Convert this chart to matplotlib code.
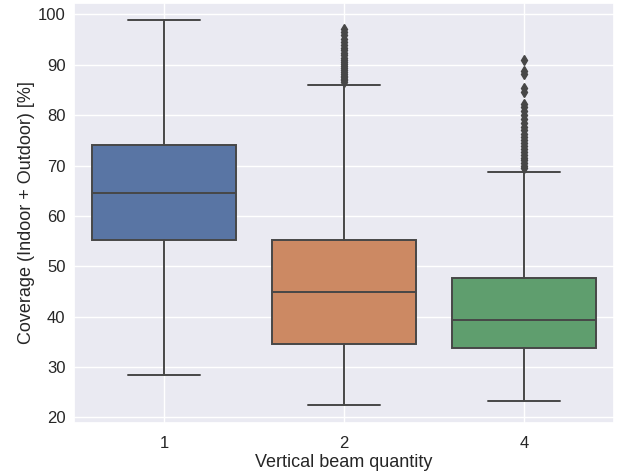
import matplotlib
matplotlib.use("Agg")
import matplotlib.pyplot as plt
import seaborn as sns

sns.set_theme(style="darkgrid")
plt.rcParams['font.family'] = ['Liberation Sans', 'DejaVu Sans']

categories = ['1', '2', '4']
q1 = [55.3, 34.6, 33.8]
median = [64.5, 44.8, 39.3]
q3 = [74.0, 55.2, 47.7]
whislo = [28.4, 22.5, 23.3]
whishi = [98.9, 85.9, 68.8]
fliers = [
    [],
    [86.6, 86.9, 87.2, 87.5, 87.8, 88.2, 88.6, 89.0, 89.4, 89.8, 90.2, 90.6,
     91.0, 91.4, 91.9, 92.4, 92.9, 93.4, 94.0, 94.6, 95.2, 95.9, 96.6, 97.1],
    [69.5, 70.0, 70.5, 71.0, 71.5, 72.0, 72.6, 73.2, 73.8, 74.4, 75.0, 75.6,
     76.3, 77.0, 77.7, 78.4, 79.2, 80.0, 80.8, 81.6, 82.3, 84.6, 85.4, 88.2,
     88.7, 91.0],
]

palette = sns.color_palette('deep', 3)
colors = [sns.desaturate(c, 0.75) for c in palette]
line_color = '#474747'

stats = []
for i, lab in enumerate(categories):
    stats.append(dict(label=lab, q1=q1[i], med=median[i], q3=q3[i],
                      whislo=whislo[i], whishi=whishi[i], fliers=fliers[i]))

fig, ax = plt.subplots(figsize=(6.21, 4.75), dpi=100)
bp = ax.bxp(stats, positions=range(len(categories)), widths=0.8,
            patch_artist=True,
            boxprops=dict(edgecolor=line_color, linewidth=1.4),
            medianprops=dict(color=line_color, linewidth=1.4),
            whiskerprops=dict(color=line_color, linewidth=1.4),
            capprops=dict(color=line_color, linewidth=1.4),
            flierprops=dict(marker='d', markerfacecolor=line_color,
                            markeredgecolor=line_color, markersize=5))
for patch, c in zip(bp['boxes'], colors):
    patch.set_facecolor(c)

ax.set_xlim(-0.5, 2.5)
ax.set_ylim(18.87, 102.3)
ax.set_xticks(range(len(categories)))
ax.set_xticklabels(categories)
ax.tick_params(labelsize=12)
ax.tick_params(axis='y', length=0, pad=6)
ax.set_xlabel('Vertical beam quantity', fontsize=13, labelpad=2)
ax.set_ylabel('Coverage (Indoor + Outdoor) [%]', fontsize=13, labelpad=2)

fig.subplots_adjust(left=0.119, right=0.989, top=0.994, bottom=0.1095)
fig.savefig('out.png', dpi=100)
